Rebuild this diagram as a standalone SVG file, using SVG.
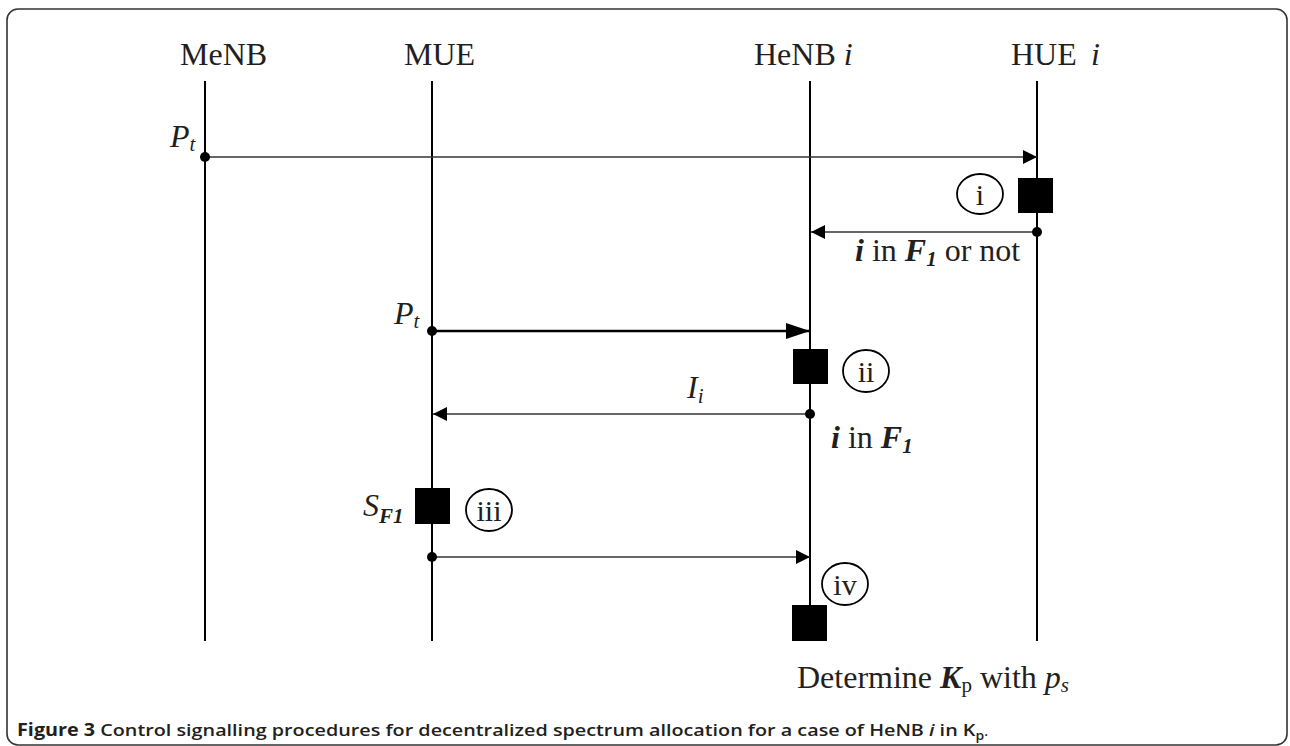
<svg xmlns="http://www.w3.org/2000/svg" width="1290" height="746" viewBox="0 0 1290 746">
<style>
.t{font-family:"Liberation Serif","Times New Roman",serif;font-size:32px;fill:#231f20}
.it{font-style:italic}
.bi{font-weight:bold;font-style:italic}
.sub{font-size:21px}
.life{stroke:#000;stroke-width:2}
.msg{stroke:#333;stroke-width:1.5;fill:none}
.thick{stroke:#000;stroke-width:2.6}
.box{fill:#000}
.circ{fill:none;stroke:#000;stroke-width:1.8}
.dot{fill:#000}
.cl{font-family:"Liberation Serif","Times New Roman",serif;font-size:30px;fill:#231f20;text-anchor:middle}
.cap{font-family:"Open Sans","Liberation Sans",sans-serif;font-size:17px;fill:#231f20;font-weight:600}
</style>
<defs>
<marker id="ah" markerUnits="userSpaceOnUse" markerWidth="16" markerHeight="16" refX="14" refY="7" orient="auto"><path d="M0,0 L14,7 L0,14 Z" fill="#000"/></marker>
<marker id="ahL" markerUnits="userSpaceOnUse" markerWidth="26" markerHeight="18" refX="24" refY="8" orient="auto"><path d="M0,0 L24,8 L0,16 Z" fill="#000"/></marker>
</defs>
<rect x="7" y="9" width="1280" height="736" rx="11" fill="#fff" stroke="#333" stroke-width="1.6"/>

<g id="MeNB">
<text class="t" x="180" y="65">MeNB</text>
<line class="life" x1="205" y1="81" x2="205" y2="641"/>
</g>
<g id="MUE">
<text class="t" x="404" y="65">MUE</text>
<line class="life" x1="432" y1="81" x2="432" y2="641"/>
</g>
<g id="HeNB">
<text class="t" x="754" y="65">HeNB <tspan class="it">i</tspan></text>
<line class="life" x1="810" y1="81" x2="810" y2="641"/>
</g>
<g id="HUE">
<text class="t" x="1011" y="65">HUE  <tspan class="it" x="1091">i</tspan></text>
<line class="life" x1="1037" y1="81" x2="1037" y2="641"/>
</g>

<g id="step-i">
<rect class="box" x="1018" y="178" width="35" height="35"/>
<ellipse class="circ" cx="980" cy="194" rx="23" ry="20"/>
<text class="cl" x="980" y="205">i</text>
</g>
<g id="step-ii">
<rect class="box" x="793" y="349" width="35" height="35"/>
<ellipse class="circ" cx="866" cy="371" rx="23" ry="21"/>
<text class="cl" x="866" y="382">ii</text>
</g>
<g id="step-iii">
<rect class="box" x="415" y="488" width="35" height="36"/>
<ellipse class="circ" cx="489" cy="510" rx="23" ry="21"/>
<text class="cl" x="489" y="521">iii</text>
<text class="t" x="363" y="516"><tspan class="it">S</tspan><tspan class="bi sub" y="523">F1</tspan></text>
</g>
<g id="step-iv">
<rect class="box" x="792" y="605" width="35" height="36"/>
<ellipse class="circ" cx="845" cy="584" rx="23" ry="21"/>
<text class="cl" x="845" y="595">iv</text>
<text class="t" x="797" y="688">Determine <tspan class="bi">K</tspan><tspan class="sub" y="692">p</tspan><tspan y="688"> with </tspan><tspan class="it">p</tspan><tspan class="it sub" y="692">s</tspan></text>
</g>

<g id="connectors">
<line class="msg" x1="205" y1="157" x2="1037" y2="157" marker-end="url(#ah)"/>
<circle class="dot" cx="205" cy="157" r="5"/>
<text class="t it" x="170" y="147">P<tspan class="sub" y="151">t</tspan></text>

<line class="msg" x1="1037" y1="232" x2="811" y2="232" marker-end="url(#ah)"/>
<circle class="dot" cx="1037" cy="232" r="5"/>
<text class="t" x="855" y="261"><tspan class="bi">i</tspan> in <tspan class="bi">F</tspan><tspan class="bi sub" y="266">1</tspan><tspan y="261"> or not</tspan></text>

<line class="msg thick" x1="432" y1="331" x2="810" y2="331" marker-end="url(#ahL)"/>
<circle class="dot" cx="432" cy="331" r="5"/>
<text class="t it" x="394" y="324">P<tspan class="sub" y="328">t</tspan></text>

<line class="msg" x1="810" y1="414" x2="433" y2="414" marker-end="url(#ah)"/>
<circle class="dot" cx="810" cy="414" r="5"/>
<text class="t it" x="687" y="398">I<tspan class="sub" y="403">i</tspan></text>
<text class="t" x="831" y="448"><tspan class="bi">i</tspan> in <tspan class="bi">F</tspan><tspan class="bi sub" y="453">1</tspan></text>

<line class="msg" x1="432" y1="557" x2="810" y2="557" stroke="#000" marker-end="url(#ah)"/>
<circle class="dot" cx="432" cy="557" r="5"/>
</g>

<text class="cap" x="17" y="736" textLength="971" lengthAdjust="spacingAndGlyphs"><tspan font-weight="700">Figure 3</tspan> Control signalling procedures for decentralized spectrum allocation for a case of HeNB <tspan font-style="italic">i</tspan> in K<tspan font-size="12" dy="4">p</tspan><tspan font-size="12" dy="-4">.</tspan></text>
</svg>
